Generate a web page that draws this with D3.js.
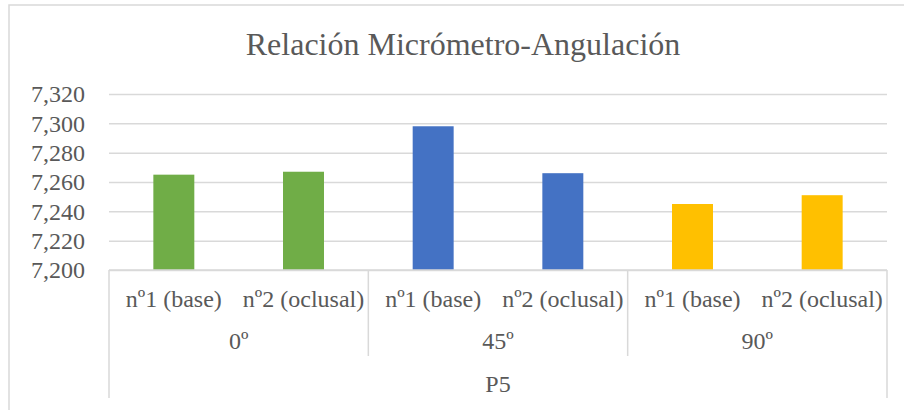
<!DOCTYPE html>
<html>
<head>
<meta charset="utf-8">
<script src="https://cdn.jsdelivr.net/npm/d3@7"></script>
<style>
  body { margin: 0; background: #fff; }
  #chart { width: 904px; height: 410px; }
</style>
</head>
<body>
<div id="chart"></div>
<script>
/* DATA */
const groups = ["0º", "45º", "90º"];
const subLabels = ["nº1 (base)", "nº2 (oclusal)"];
const outerLabel = "P5";
const values = [
  [7.265, 7.267],
  [7.298, 7.266],
  [7.245, 7.251]
];
const colors = ["#70AD47", "#4472C4", "#FFC000"];
const yTicks = [7.200, 7.220, 7.240, 7.260, 7.280, 7.300, 7.320];

/* CANVAS */
const width = 904, height = 410;
const margin = {top: 94, left: 109, right: 17, bottom: 140};
const serif = "Liberation Serif, DejaVu Serif, serif";
const textColor = "#595959";

const svg = d3.select("#chart")
  .append("svg")
  .attr("width", width)
  .attr("height", height);

// chart area border (runs off the right and bottom edges)
svg.append("rect")
  .attr("x", 9).attr("y", 5)
  .attr("width", 920).attr("height", 420)
  .attr("fill", "none")
  .attr("stroke", "#D9D9D9")
  .attr("stroke-width", 1.5);

svg.append("text")
  .attr("x", 463)
  .attr("y", 55)
  .attr("text-anchor", "middle")
  .style("font-family", serif)
  .style("font-size", "32px")
  .style("fill", textColor)
  .text("Relación Micrómetro-Angulación");

/* SCALES */
const x0 = d3.scaleBand()
  .domain(groups)
  .range([margin.left, width - margin.right])
  .padding(0);

const x1 = d3.scaleBand()
  .domain(subLabels)
  .range([0, x0.bandwidth()])
  .padding(0);

const y = d3.scaleLinear()
  .domain([7.2, 7.32])
  .range([height - margin.bottom, margin.top]);

const fmt = d3.formatLocale({decimal: ",", thousands: ".", grouping: [3], currency: ["", ""]}).format(".3f");

/* Y AXIS + GRIDLINES */
const yAxis = svg.append("g")
  .attr("transform", `translate(${margin.left},0)`)
  .call(d3.axisLeft(y)
    .tickValues(yTicks)
    .tickFormat(fmt)
    .tickSizeInner(-(width - margin.left - margin.right))
    .tickSizeOuter(0)
    .tickPadding(24));
yAxis.select(".domain").remove();
yAxis.selectAll(".tick line").attr("stroke", "#D9D9D9").attr("stroke-width", 1.5);
yAxis.selectAll(".tick text")
  .style("font-family", serif)
  .style("font-size", "24px")
  .style("fill", textColor);

/* BARS */
const barFrac = 0.316;
const g = svg.append("g");
groups.forEach((grp, gi) => {
  g.selectAll(null)
    .data(values[gi])
    .enter()
    .append("rect")
      .attr("x", (d, i) => x0(grp) + x1(subLabels[i]) + x1.bandwidth() * (1 - barFrac) / 2)
      .attr("y", d => y(d))
      .attr("width", x1.bandwidth() * barFrac)
      .attr("height", d => y(7.2) - y(d))
      .attr("fill", colors[gi]);
});

/* MULTI-LEVEL CATEGORY AXIS */
const axisY = y(7.2);
const lineColor = "#D9D9D9";
const ax = svg.append("g");
ax.append("line")
  .attr("x1", x0.range()[0]).attr("x2", x0.range()[1])
  .attr("y1", axisY).attr("y2", axisY)
  .attr("stroke", lineColor).attr("stroke-width", 1.5);
// outer edges
x0.range().forEach(xv => {
  ax.append("line")
    .attr("x1", xv).attr("x2", xv)
    .attr("y1", axisY).attr("y2", 398)
    .attr("stroke", lineColor).attr("stroke-width", 1.5);
});
// group separators
groups.slice(1).forEach(grp => {
  ax.append("line")
    .attr("x1", x0(grp)).attr("x2", x0(grp))
    .attr("y1", axisY).attr("y2", 356)
    .attr("stroke", lineColor).attr("stroke-width", 1.5);
});

function label(sel, xv, yv, txt) {
  sel.append("text")
    .attr("x", xv)
    .attr("y", yv)
    .attr("text-anchor", "middle")
    .style("font-family", serif)
    .style("font-size", "24px")
    .style("fill", textColor)
    .text(txt);
}

groups.forEach(grp => {
  subLabels.forEach(s => label(ax, x0(grp) + x1(s) + x1.bandwidth() / 2, 307, s));
  label(ax, x0(grp) + x0.bandwidth() / 2, 349, grp);
});
label(ax, (x0.range()[0] + x0.range()[1]) / 2, 392, outerLabel);
</script>
</body>
</html>
